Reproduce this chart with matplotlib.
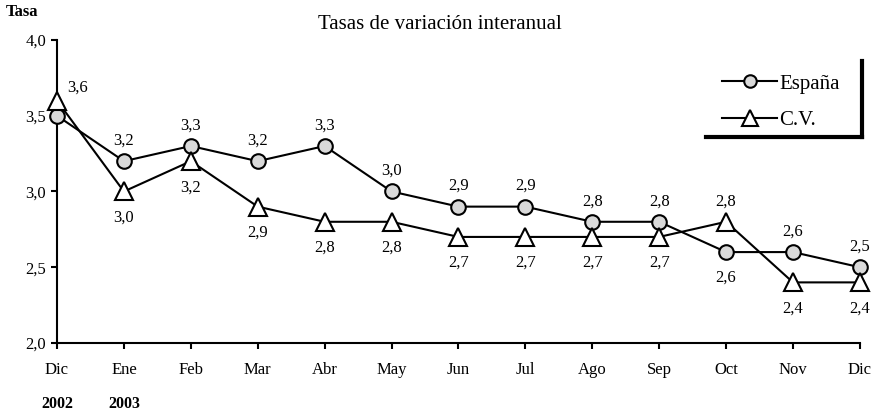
import matplotlib
matplotlib.use('Agg')
import matplotlib.pyplot as plt
from matplotlib.lines import Line2D

plt.rcParams['font.family'] = ['Liberation Serif', 'DejaVu Serif']

months = ['Dic', 'Ene', 'Feb', 'Mar', 'Abr', 'May', 'Jun', 'Jul', 'Ago', 'Sep', 'Oct', 'Nov', 'Dic']
years = ['2002', '2003']
espana = [3.5, 3.2, 3.3, 3.2, 3.3, 3.0, 2.9, 2.9, 2.8, 2.8, 2.6, 2.6, 2.5]
cv = [3.6, 3.0, 3.2, 2.9, 2.8, 2.8, 2.7, 2.7, 2.7, 2.7, 2.8, 2.4, 2.4]

# label placement: 'a' above, 'b' below, 'r' right, 'n' none (shares the tick label)
esp_pos = ['n', 'a', 'a', 'a', 'a', 'a', 'a', 'a', 'a', 'a', 'b', 'a', 'a']
cv_pos = ['r', 'b', 'b', 'b', 'b', 'b', 'b', 'b', 'b', 'b', 'a', 'b', 'b']

fig = plt.figure(figsize=(8.77, 4.12), dpi=100)
ax = fig.add_axes([0.065, 0.1675, 0.9155, 0.7355])

esp_style = dict(color='black', lw=1.5, marker='o', ms=10.5, mfc='#d9d9d9', mec='black', mew=1.5)
cv_style = dict(color='black', lw=1.5, marker='^', ms=13, mfc='white', mec='black', mew=1.5)

x = list(range(len(months)))
ax.plot(x, espana, clip_on=False, zorder=3, **esp_style)
ax.plot(x, cv, clip_on=False, zorder=3, **cv_style)

def fmt(v):
    return f'{v:.1f}'.replace('.', ',')

def put_labels(vals, pos):
    for i, (v, p) in enumerate(zip(vals, pos)):
        if p == 'n':
            continue
        if p == 'a':
            off, ha, va = (0, 9), 'center', 'bottom'
        elif p == 'b':
            off, ha, va = (0, -13), 'center', 'top'
        else:
            off, ha, va = (7, 9), 'left', 'center'
        ax.annotate(fmt(v), (i, v), xytext=off, textcoords='offset points',
                    ha=ha, va=va, fontsize=12)

put_labels(espana, esp_pos)
put_labels(cv, cv_pos)

ax.set_xlim(0, 12)
ax.set_ylim(2.0, 4.0)
yt = [2.0, 2.5, 3.0, 3.5, 4.0]
ax.set_yticks(yt)
ax.set_yticklabels([fmt(v) for v in yt], fontsize=12)
ax.set_xticks(x)
ax.set_xticklabels(months, fontsize=12)
ax.tick_params(axis='both', direction='out', length=4, width=1.5, colors='black')
ax.tick_params(axis='x', pad=10)
ax.tick_params(axis='y', pad=4)
for s in ['top', 'right']:
    ax.spines[s].set_visible(False)
for s in ['left', 'bottom']:
    ax.spines[s].set_linewidth(1.5)

# years below first two months
for i, yr in enumerate(years):
    ax.annotate(yr, (i, 2.0), xycoords='data', xytext=(0, -44), textcoords='offset points',
                ha='center', va='center', fontsize=11.5, fontweight='bold', annotation_clip=False)

fig.text(0.006, 0.972, 'Tasa', fontsize=12, fontweight='bold', ha='left', va='center')
fig.text(0.502, 0.94, 'Tasas de variación interanual', fontsize=15, ha='center', va='center')

# legend (only right and bottom edges of its box are drawn)
handles = [Line2D([], [], **dict(esp_style, ms=9)), Line2D([], [], **dict(cv_style, ms=11))]
ax.legend(handles, ['España', 'C.V.'], loc='upper left', bbox_to_anchor=(0.818, 0.915),
          frameon=False, fontsize=15, handlelength=2.65, handletextpad=0.1,
          labelspacing=0.8, borderaxespad=0)
ax.plot([0.808, 1.003], [0.68, 0.68], transform=ax.transAxes, color='black', lw=3,
        clip_on=False, solid_capstyle='projecting')
ax.plot([1.003, 1.003], [0.68, 0.931], transform=ax.transAxes, color='black', lw=3,
        clip_on=False, solid_capstyle='projecting')

fig.savefig('out.png', dpi=100)
